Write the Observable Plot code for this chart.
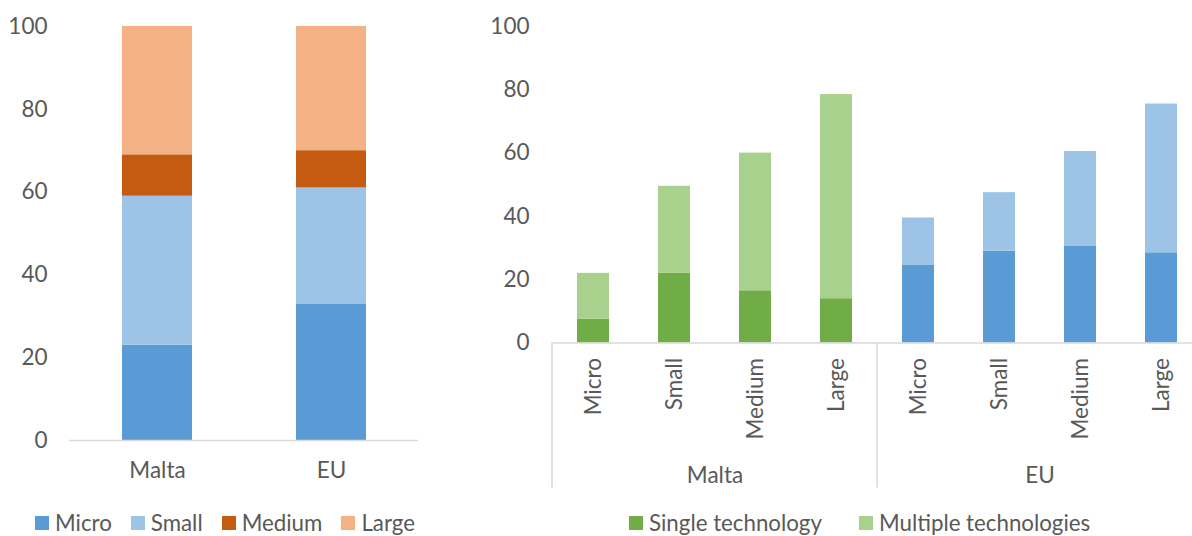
<!DOCTYPE html>
<html><head><meta charset="utf-8">
<script src="https://cdn.jsdelivr.net/npm/d3@7"></script>
<script src="https://cdn.jsdelivr.net/npm/@observablehq/plot@0.6"></script>
<style>
html,body{margin:0;padding:0;background:#fff;overflow:hidden;}
#wrap{position:relative;width:1192px;height:536px;font-family:Lato, sans-serif;color:#595959;}
.chart{position:absolute;top:0;}
.chart svg{overflow:visible;}
.legend{position:absolute;display:flex;align-items:center;font-size:22.3px;color:#595959;white-space:nowrap;line-height:1;}
.legend .item{display:flex;align-items:center;}
.legend .sw{width:14px;height:14px;margin-right:6px;}
</style></head><body><div id="wrap"></div>
<script>
// ---- data ----
const countries = ["Malta", "EU"];
const sizeClasses = ["Micro", "Small", "Medium", "Large"];
const microShare  = [23, 33];
const smallShare  = [36, 28];
const mediumShare = [10, 9];
const largeShare  = [31, 30];

const techTypes = ["Single technology", "Multiple technologies"];
const maltaSingle   = [7.5, 22, 16.5, 14];
const maltaMultiple = [14.5, 27.5, 43.5, 64.5];
const euSingle      = [24.5, 29, 30.5, 28.5];
const euMultiple    = [15, 18.5, 30, 47];

const yTicks = [0, 20, 40, 60, 80, 100];

// ---- styles ----
const FONT = "Lato, sans-serif";
const TEXT = "#595959";
const AXIS = "#D9D9D9";
const sizeColors = ["#5B9BD5", "#9DC3E6", "#C55A11", "#F4B183"];
const greenColors = ["#70AD47", "#A9D18E"];
const blueColors = ["#5B9BD5", "#9DC3E6"];

const wrap = document.getElementById("wrap");

// ---- left chart ----
const shareSeries = [microShare, smallShare, mediumShare, largeShare];
const leftRows = [];
countries.forEach((c, i) => sizeClasses.forEach((s, j) =>
  leftRows.push({country: c, size: s, value: shareSeries[j][i]})));

const left = Plot.plot({
  width: 480, height: 500,
  marginLeft: 69, marginRight: 62, marginTop: 26, marginBottom: 60,
  style: {fontFamily: FONT, fontSize: "22.5px", color: TEXT, background: "transparent"},
  x: {domain: countries, paddingInner: 0.6, paddingOuter: 0.3},
  y: {domain: [0, 100]},
  color: {domain: sizeClasses, range: sizeColors},
  marks: [
    Plot.barY(leftRows, {x: "country", y: "value", fill: "size"}),
    Plot.ruleY([0], {stroke: AXIS, strokeWidth: 1.5}),
    Plot.axisY({ticks: yTicks, tickSize: 0, tickPadding: 22, label: null}),
    Plot.axisX({tickSize: 0, tickPadding: 22, label: null})
  ]
});
const leftDiv = document.createElement("div");
leftDiv.className = "chart"; leftDiv.style.left = "0px";
leftDiv.appendChild(left);
wrap.appendChild(leftDiv);

// ---- right chart ----
const techSeries = {Malta: [maltaSingle, maltaMultiple], EU: [euSingle, euMultiple]};
const rightRows = [];
countries.forEach(c => sizeClasses.forEach((s, j) => techTypes.forEach((t, k) =>
  rightRows.push({country: c, size: s, type: t, value: techSeries[c][k][j]}))));
const colorKeys = [], colorRange = [];
techTypes.forEach((t, k) => {
  colorKeys.push("Malta|" + t); colorRange.push(greenColors[k]);
  colorKeys.push("EU|" + t); colorRange.push(blueColors[k]);
});

const right = Plot.plot({
  width: 712, height: 500,
  marginLeft: 72, marginRight: -10, marginTop: 26, marginBottom: 157.5,
  style: {fontFamily: FONT, fontSize: "22.5px", color: TEXT, background: "transparent"},
  fx: {domain: countries, padding: 0},
  x: {domain: sizeClasses, paddingInner: 0.6, paddingOuter: 0.3},
  y: {domain: [0, 100]},
  color: {domain: colorKeys, range: colorRange},
  marks: [
    Plot.barY(rightRows, {fx: "country", x: "size", y: "value", fill: d => d.country + "|" + d.type}),
    Plot.ruleY([0], {stroke: AXIS, strokeWidth: 1.5}),
    Plot.axisY({ticks: yTicks, tickSize: 0, tickPadding: 23, label: null}),
    Plot.axisX({tickRotate: -90, tickSize: 0, tickPadding: 15, label: null}),
    Plot.axisFx({anchor: "bottom", tickSize: 0, tickPadding: 124, label: null})
  ]
});
// group separators derived from the fx scale
const fx = right.scale("fx"), ys = right.scale("y");
const bounds = countries.map(c => fx.apply(c)).concat([fx.apply(countries[countries.length - 1]) + fx.bandwidth]);
const y0 = ys.apply(0);
d3.select(right).append("g").selectAll("line").data(bounds).join("line")
  .attr("x1", d => d).attr("x2", d => d).attr("y1", y0).attr("y2", y0 + 145)
  .attr("stroke", AXIS).attr("stroke-width", 1.5);

const rightDiv = document.createElement("div");
rightDiv.className = "chart"; rightDiv.style.left = "480px";
rightDiv.appendChild(right);
wrap.appendChild(rightDiv);

// ---- legends ----
function legend(labels, colors, left, top, gap) {
  const lg = document.createElement("div");
  lg.className = "legend";
  lg.style.left = left + "px"; lg.style.top = top + "px";
  labels.forEach((l, i) => {
    const it = document.createElement("div"); it.className = "item";
    if (i > 0) it.style.marginLeft = gap + "px";
    const sw = document.createElement("div"); sw.className = "sw"; sw.style.background = colors[i];
    const tx = document.createElement("span"); tx.textContent = l;
    it.appendChild(sw); it.appendChild(tx); lg.appendChild(it);
  });
  wrap.appendChild(lg);
}
legend(sizeClasses, sizeColors, 35, 512, 19);
legend(techTypes, greenColors, 629, 512, 37);
</script>
</body></html>
